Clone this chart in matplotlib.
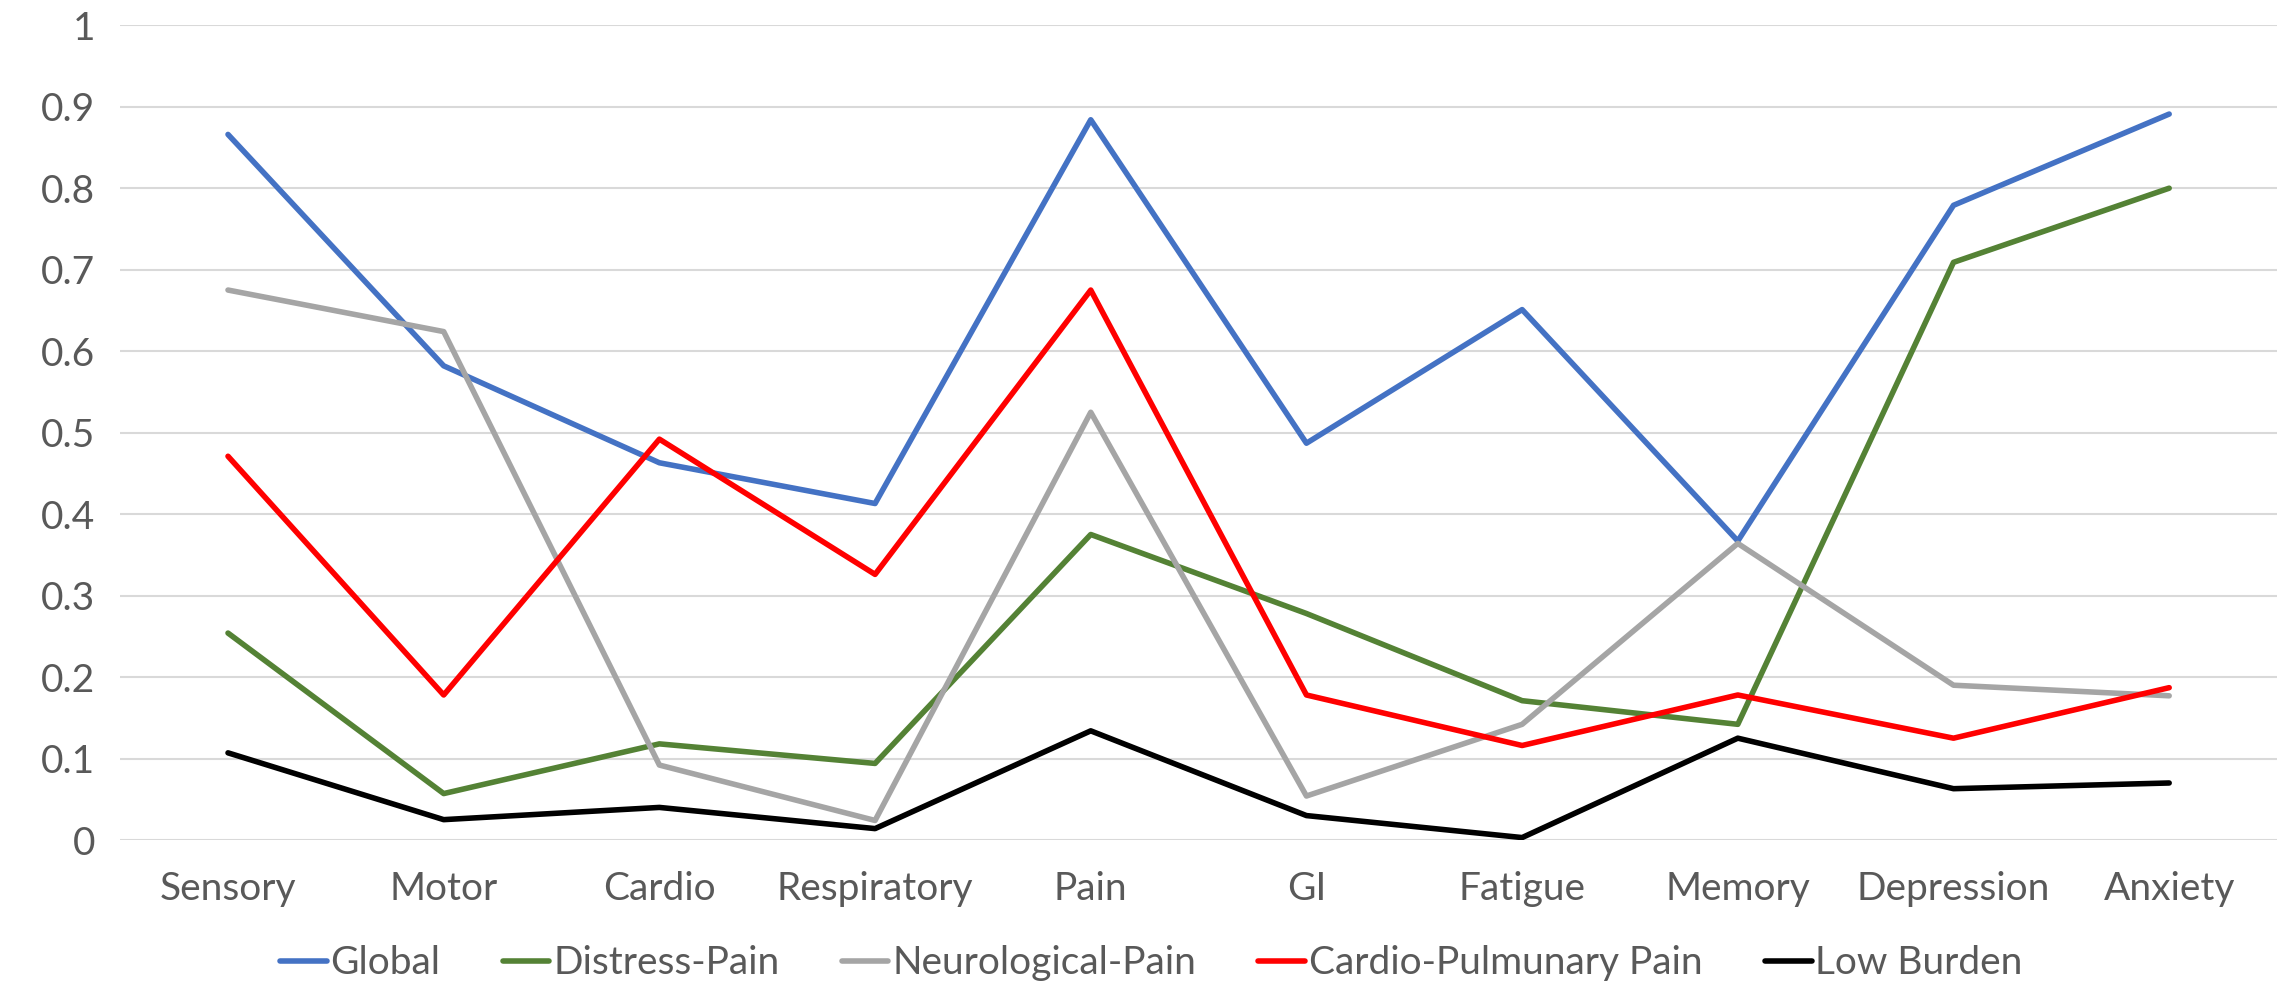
import numpy as np
import matplotlib
matplotlib.use("Agg")
import matplotlib.pyplot as plt

plt.rcParams['font.family'] = ['Lato', 'DejaVu Sans']

categories = ["Sensory", "Motor", "Cardio", "Respiratory", "Pain",
              "GI", "Fatigue", "Memory", "Depression", "Anxiety"]

global_vals = [0.866, 0.582, 0.463, 0.413, 0.884, 0.487, 0.651, 0.367, 0.779, 0.891]
distress_pain = [0.254, 0.057, 0.118, 0.094, 0.375, 0.278, 0.171, 0.142, 0.709, 0.800]
neuro_pain = [0.675, 0.624, 0.092, 0.024, 0.525, 0.054, 0.142, 0.364, 0.190, 0.177]
cardio_pulm = [0.471, 0.178, 0.492, 0.326, 0.675, 0.178, 0.116, 0.178, 0.125, 0.187]
low_burden = [0.107, 0.025, 0.040, 0.014, 0.134, 0.030, 0.003, 0.125, 0.063, 0.070]

series = [
    ("Global", global_vals, "#4472C4"),
    ("Distress-Pain", distress_pain, "#548235"),
    ("Neurological-Pain", neuro_pain, "#A5A5A5"),
    ("Cardio-Pulmunary Pain", cardio_pulm, "#FF0000"),
    ("Low Burden", low_burden, "#000000"),
]

text_col = "#595959"

fig = plt.figure(figsize=(22.8, 9.9), dpi=100)
ax = fig.add_axes([0.0527, 0.1515, 0.946, 0.823])

x = np.arange(len(categories))
for name, vals, col in series:
    ax.plot(x, vals, color=col, lw=4, label=name, solid_joinstyle="round",
            solid_capstyle="round")

ax.set_xlim(-0.5, len(categories) - 0.5)
ax.set_ylim(0, 1)
ax.set_yticks(np.arange(0, 1.01, 0.1))
ax.set_yticklabels(["0"] + ["%.1f" % v for v in np.arange(0.1, 0.95, 0.1)] + ["1"])
ax.set_xticks(x)
ax.set_xticklabels(categories)
ax.tick_params(axis="both", length=0, labelsize=28, colors=text_col)
ax.tick_params(axis="x", pad=22)
ax.tick_params(axis="y", pad=18)
ax.grid(axis="y", color="#D9D9D9", lw=1.5)
ax.set_axisbelow(True)
for s in ax.spines.values():
    s.set_visible(False)

leg = fig.legend(loc="center", bbox_to_anchor=(0.505, 0.027), ncol=5, frameon=False,
                 fontsize=28, handlelength=1.2, handletextpad=0.1, columnspacing=1.6)
for t in leg.get_texts():
    t.set_color(text_col)

fig.savefig("out.png", dpi=100)
